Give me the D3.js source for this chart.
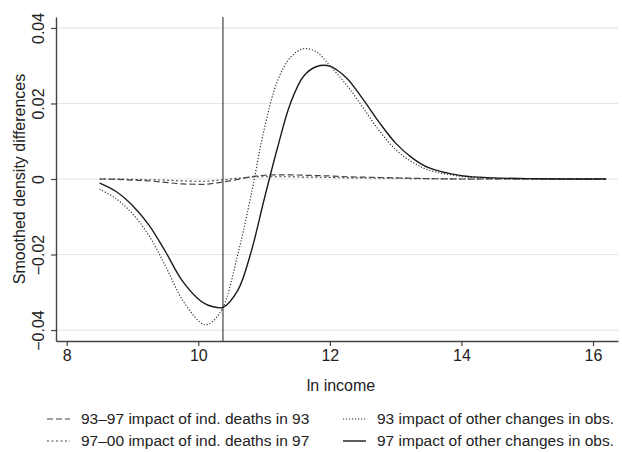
<!DOCTYPE html>
<html>
<head>
<meta charset="utf-8">
<script src="https://cdn.jsdelivr.net/npm/d3@7"></script>
<style>
  body { margin: 0; background: #fff; }
  text { font-family: "Liberation Sans", Arial, Helvetica, sans-serif; fill: #222; }
</style>
</head>
<body>
<div id="chart"></div>
<script>
// ln income grid (shared by all series)
var incomeX = [8.5, 8.75, 9.0, 9.25, 9.5, 9.75, 10.0, 10.1, 10.2, 10.375, 10.6, 10.8, 11.0, 11.2,
               11.4, 11.6, 11.8, 12.0, 12.25, 12.5, 12.75, 13.0, 13.25, 13.5, 14.0, 14.5, 15.0, 15.5, 16.2];

// 93-97 impact of ind. deaths in 93 (long dash)
var deaths93 = [0, -0.0001, -0.0003, -0.0005, -0.0009, -0.0013, -0.0014, -0.0014, -0.0012, -0.0008,
                -0.0001, 0.0006, 0.0010, 0.0011, 0.0011, 0.0010, 0.0009, 0.0008, 0.0006, 0.0005,
                0.0004, 0.0003, 0.0002, 0.0001, 0, 0, 0, 0, 0];

// 97-00 impact of ind. deaths in 97 (short dash)
var deaths97 = [0, 0, -0.0001, -0.0002, -0.0003, -0.0005, -0.0006, -0.0006, -0.0005, -0.0002,
                0.0002, 0.0005, 0.0006, 0.0006, 0.0006, 0.0005, 0.0005, 0.0004, 0.0003, 0.0003,
                0.0002, 0.0002, 0.0001, 0.0001, 0, 0, 0, 0, 0];

// 93 impact of other changes in obs. (dotted)
var other93 = [-0.0027, -0.0052, -0.0092, -0.0150, -0.0230, -0.0318, -0.0375, -0.0386, -0.0380, -0.0340,
               -0.0200, -0.0045, 0.0130, 0.0258, 0.0322, 0.0345, 0.0336, 0.0300, 0.0250, 0.0190,
               0.0128, 0.0078, 0.0045, 0.0024, 0.0007, 0.0002, 0.0001, 0, 0];

// 97 impact of other changes in obs. (solid)
var other97 = [-0.0011, -0.0033, -0.0070, -0.0122, -0.0192, -0.0268, -0.0318, -0.0330, -0.0337, -0.0340,
               -0.0295, -0.0195, -0.0055, 0.0080, 0.0200, 0.0272, 0.0298, 0.0299, 0.0268, 0.0212,
               0.0150, 0.0095, 0.0056, 0.0030, 0.0009, 0.0003, 0.0001, 0, 0];

var seriesNames = ["93\u201397 impact of ind. deaths in 93", "97\u201300 impact of ind. deaths in 97",
                   "93 impact of other changes in obs.", "97 impact of other changes in obs."];
var xTicks = [8, 10, 12, 14, 16];
var yTicks = [-0.04, -0.02, 0, 0.02, 0.04];
var refLineX = 10.375;

var width = 622, height = 452;
var margin = {top: 17, right: 4, bottom: 111, left: 56};

var svg = d3.select("#chart").append("svg")
    .attr("width", width)
    .attr("height", height);

var x = d3.scaleLinear().domain([7.837, 16.38]).range([margin.left, width - margin.right]);
var y = d3.scaleLinear().domain([-0.0429, 0.0429]).range([height - margin.bottom, margin.top]);

// grid lines
svg.append("g").selectAll("line")
    .data(yTicks)
    .enter().append("line")
    .attr("x1", x.range()[0]).attr("x2", x.range()[1])
    .attr("y1", function(d) { return y(d); })
    .attr("y2", function(d) { return y(d); })
    .attr("stroke", "#e6e6e6")
    .attr("stroke-width", 1.2);

var fmtY = function(d) { return d === 0 ? "0" : d3.format(".2f")(d).replace("-", "\u2212"); };

// y axis, labels turned upright
var yAxis = svg.append("g")
    .attr("transform", "translate(" + margin.left + ",0)")
    .call(d3.axisLeft(y).tickValues(yTicks).tickFormat(fmtY).tickSize(5).tickSizeOuter(0));
yAxis.selectAll("text")
    .attr("transform", "rotate(-90)")
    .attr("x", 0).attr("y", -18).attr("dy", "0.35em")
    .style("text-anchor", "middle")
    .style("font-size", "16px");

var xAxis = svg.append("g")
    .attr("transform", "translate(0," + y.range()[0] + ")")
    .call(d3.axisBottom(x).tickValues(xTicks).tickFormat(d3.format("d")).tickSize(5).tickSizeOuter(0));
xAxis.selectAll("text")
    .attr("y", 9)
    .style("font-size", "16px");

svg.selectAll(".domain").attr("stroke", "#444").attr("stroke-width", 1.4);
svg.selectAll(".tick line").attr("stroke", "#444").attr("stroke-width", 1.2);

// axis titles
svg.append("text")
    .attr("transform", "translate(19," + ((y.range()[0] + y.range()[1]) / 2) + ") rotate(-90)")
    .attr("dy", "0.35em")
    .style("text-anchor", "middle")
    .style("font-size", "16px")
    .text("Smoothed density differences");

svg.append("text")
    .attr("x", 341).attr("y", 391)
    .style("text-anchor", "middle")
    .style("font-size", "16px")
    .text("ln income");

// vertical reference line
svg.append("line")
    .attr("x1", x(refLineX)).attr("x2", x(refLineX))
    .attr("y1", y.range()[1]).attr("y2", y.range()[0])
    .attr("stroke", "#333")
    .attr("stroke-width", 1.1);

var styles = [
    {dash: "6,3", width: 1.2, color: "#444"},
    {dash: "2,2.5", width: 1.1, color: "#444"},
    {dash: "1.2,1.8", width: 1.2, color: "#333"},
    {dash: null, width: 1.4, color: "#1a1a1a"}
];
var allSeries = [deaths93, deaths97, other93, other97];

var line = d3.line()
    .x(function(d, i) { return x(incomeX[i]); })
    .y(function(d) { return y(d); })
    .curve(d3.curveCatmullRom.alpha(0.5));

svg.append("g").selectAll("path")
    .data(allSeries)
    .enter().append("path")
    .attr("d", line)
    .attr("fill", "none")
    .attr("stroke", function(d, i) { return styles[i].color; })
    .attr("stroke-width", function(d, i) { return styles[i].width; })
    .attr("stroke-dasharray", function(d, i) { return styles[i].dash; });

// legend, two columns
var legendPos = [{x: 47, y: 419}, {x: 47, y: 441}, {x: 343, y: 419}, {x: 343, y: 441}];
var legend = svg.append("g").selectAll("g")
    .data(seriesNames)
    .enter().append("g")
    .attr("transform", function(d, i) { return "translate(" + legendPos[i].x + "," + legendPos[i].y + ")"; });

legend.append("line")
    .attr("x1", 0).attr("x2", 23)
    .attr("stroke", function(d, i) { return styles[i].color; })
    .attr("stroke-width", function(d, i) { return styles[i].width; })
    .attr("stroke-dasharray", function(d, i) { return styles[i].dash; });

legend.append("text")
    .attr("x", 34).attr("dy", "0.35em")
    .style("font-size", "15.5px")
    .text(function(d) { return d; });
</script>
</body>
</html>
